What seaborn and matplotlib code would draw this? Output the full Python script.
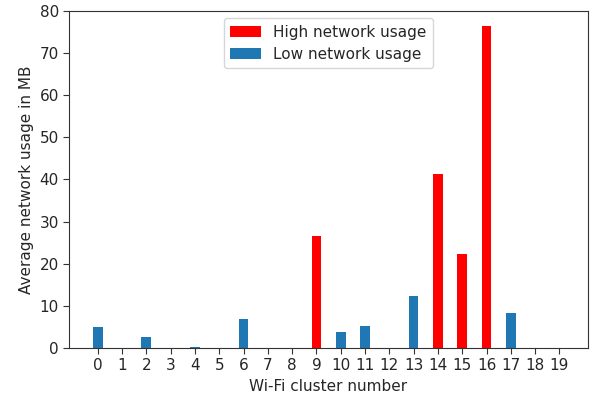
import numpy as np
import pandas as pd
import seaborn as sns
import matplotlib
matplotlib.use("Agg")
import matplotlib.pyplot as plt

# ---- data ----
clusters = list(range(20))
usage = [4.9, 0, 2.6, 0, 0.3, 0, 6.9, 0, 0, 26.5,
         3.8, 5.2, 0, 12.4, 41.3, 22.3, 76.4, 8.3, 0, 0]
level = ["Low", "Low", "Low", "Low", "Low", "Low", "Low", "Low", "Low", "High",
         "Low", "Low", "Low", "Low", "High", "High", "High", "Low", "Low", "Low"]
labels = {"High": "High network usage", "Low": "Low network usage"}

df = pd.DataFrame({"cluster": clusters, "usage": usage,
                   "level": [labels[l] for l in level]})

sns.set_style("ticks")
plt.rcParams["font.family"] = ["DejaVu Sans"]

fig, ax = plt.subplots(figsize=(5.92, 4.0), dpi=100)
sns.barplot(data=df, x="cluster", y="usage", hue="level",
            hue_order=[labels["High"], labels["Low"]],
            palette={labels["High"]: "red", labels["Low"]: "#1f77b4"},
            dodge=False, width=0.4, linewidth=0, saturation=1, ax=ax)

ax.set_xlim(-1.17, 20.17)
ax.set_ylim(0, 80)
ax.set_xlabel("Wi-Fi cluster number", fontsize=11)
ax.set_ylabel("Average network usage in MB", fontsize=11)
ax.tick_params(labelsize=11, color="#333333", length=4)
for s in ax.spines.values():
    s.set_color("#333333")
    s.set_visible(True)

ax.legend(loc="upper center", fontsize=11, frameon=True)

fig.subplots_adjust(left=0.117, right=0.993, top=0.973, bottom=0.13)
fig.savefig("out.png", dpi=100)
